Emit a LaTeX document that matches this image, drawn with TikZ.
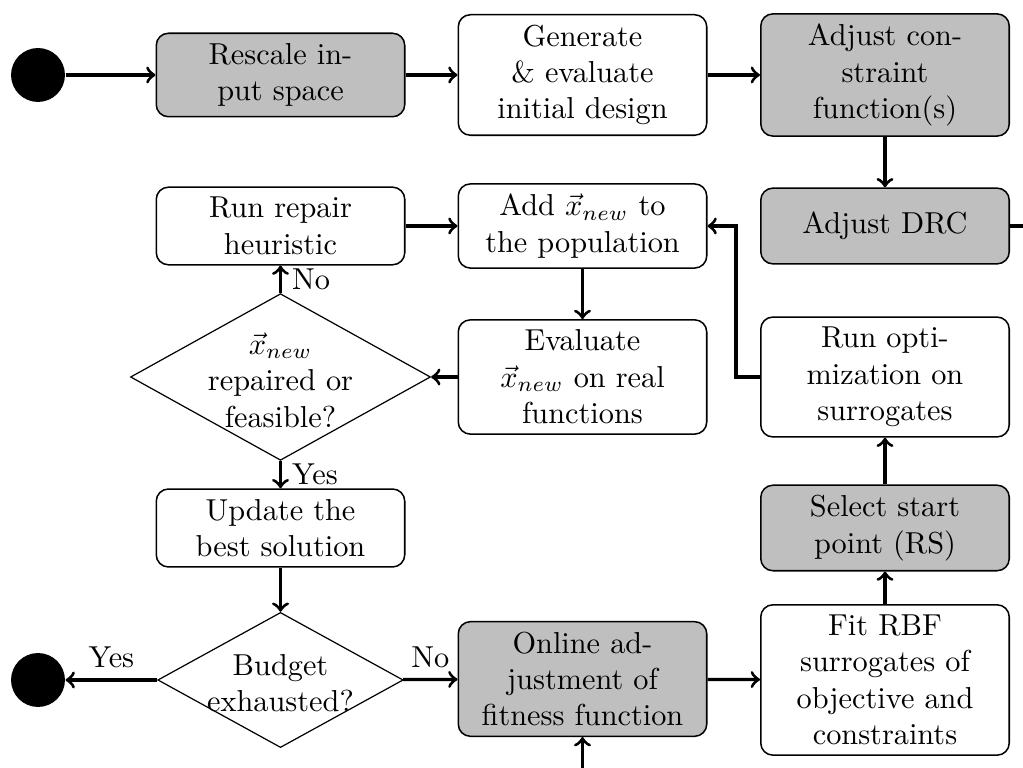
\documentclass[tikz,border=0pt]{standalone}
\usetikzlibrary{shapes.geometric}
\begin{document}
\begin{tikzpicture}[x=0.33pt,y=-0.33pt,
  procbox/.style={draw, line width=0.5pt, rounded corners, align=center, minimum width=82pt, minimum height=25pt, fill=white},
  grayproc/.style={procbox, fill=gray!50},
  decision/.style={draw, diamond, inner sep=0pt},
  blackdot/.style={circle, fill=black, inner sep=0pt, minimum size=17.8pt},
  arr/.style={line width=1.05pt, ->},
  dectext/.style={align=center, inner sep=0pt}
]
\useasboundingbox (0,0) rectangle (1023,768);
\clip (0,0) rectangle (1023,768);

\node[blackdot] (start) at (38,75) {};
\node[grayproc] (rescale) at (280.5,75) {Rescale in-\\put space};
\node[procbox] (gen) at (582.5,75) {Generate\\\& evaluate\\initial design};
\node[grayproc] (adjc) at (885,75) {Adjust con-\\straint\\function(s)};
\node[procbox] (repair) at (280.5,226) {Run repair\\heuristic};
\node[procbox] (add) at (582.5,226) {Add $\vec{x}_{new}$ to\\the population};
\node[grayproc] (drc) at (885,226) {Adjust DRC};
\node[decision, minimum width=99pt, minimum height=55pt] (feas) at (280.5,377) {};
\node[dectext] (feast) at (280.5,380) {$\vec{x}_{new}$\\repaired or\\feasible?};
\node[procbox] (eval) at (582.5,377) {Evaluate\\$\vec{x}_{new}$ on real\\functions};
\node[procbox] (runopt) at (885,377) {Run opti-\\mization on\\surrogates};
\node[procbox] (update) at (280.5,528) {Update the\\best solution};
\node[grayproc] (select) at (885,528) {Select start\\point (RS)};
\node[decision, minimum width=81pt, minimum height=44.6pt] (budget) at (280.5,680) {};
\node[dectext] (budgett) at (280.5,683) {Budget\\exhausted?};
\node[blackdot] (end) at (38,680) {};
\node[grayproc] (online) at (582.5,679) {Online ad-\\justment of\\fitness function};
\node[procbox] (fit) at (885,680) {Fit RBF\\surrogates of\\objective and\\constraints};
\coordinate (drcout) at (1040,226);
\coordinate (ret) at (736,377);
\coordinate (below) at (582.5,790);

\draw[arr] (start) -- (rescale);
\draw[arr] (rescale) -- (gen);
\draw[arr] (gen) -- (adjc);
\draw[arr] (adjc) -- (drc);
\draw[line width=1.05pt] (drc) -- (drcout);
\draw[arr] (repair) -- (add);
\draw[arr] (add) -- (eval);
\draw[arr] (eval) -- (feas);
\draw[arr] (feas) -- node[right]{No} (repair);
\draw[arr] (feas) -- node[right]{Yes} (update);
\draw[arr] (update) -- (budget);
\draw[arr] (budget) -- node[above]{Yes} (end);
\draw[arr] (budget) -- node[above]{No} (online);
\draw[arr] (online) -- (fit);
\draw[arr] (fit) -- (select);
\draw[arr] (select) -- (runopt);
\draw[arr] (runopt.west) -- (ret) |- (add.east);
\draw[arr] (below) -- (online);
\end{tikzpicture}
\end{document}
